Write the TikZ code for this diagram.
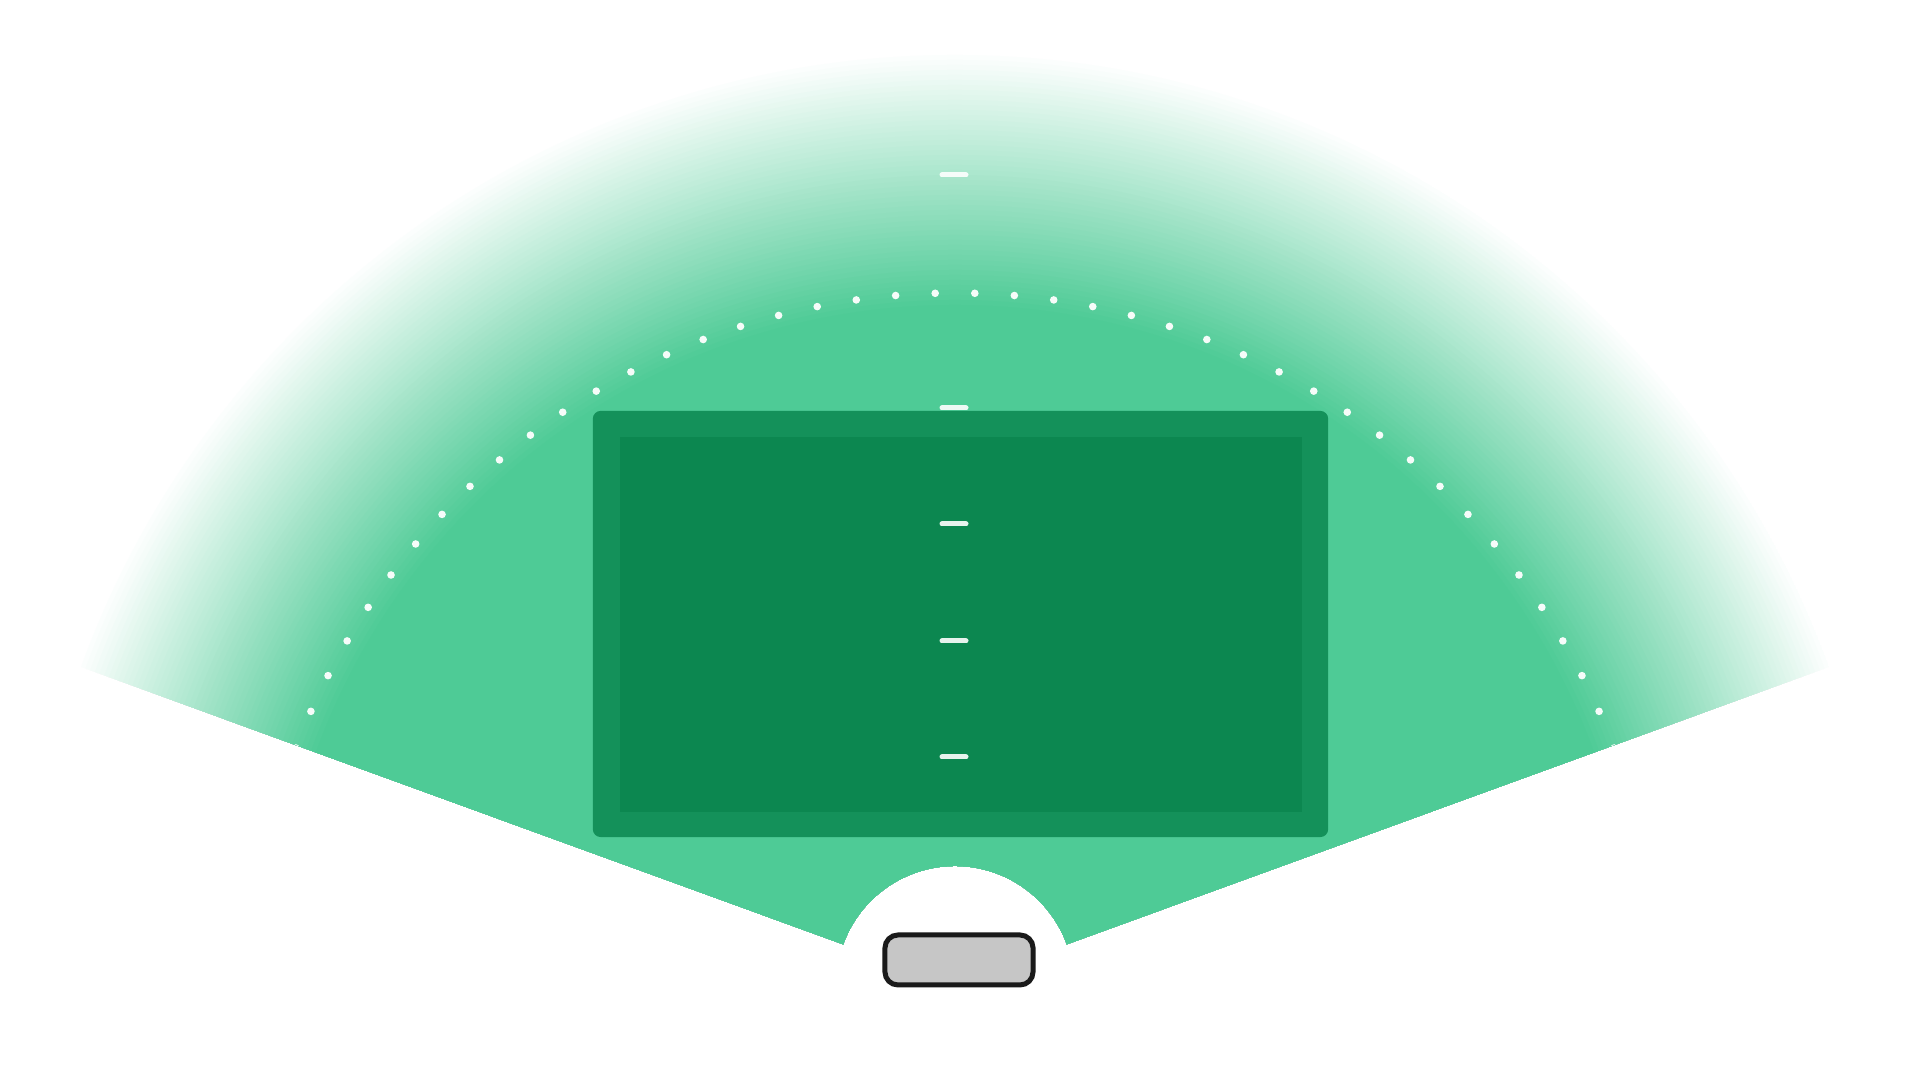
\documentclass[tikz,border=0pt]{standalone}
\usepackage{tikz}
\usetikzlibrary{positioning}

\definecolor{fangreen}{RGB}{78,203,150}
\definecolor{screenrim}{RGB}{20,145,90}
\definecolor{screenfill}{RGB}{12,135,80}
\definecolor{buttongray}{RGB}{198,198,198}
\definecolor{buttonrim}{RGB}{26,26,26}

\begin{document}
\begin{tikzpicture}[
  x=0.01cm, y=0.01cm,
  screen/.style={rectangle, rounded corners=0.08cm, fill=screenrim, minimum width=7.35cm, minimum height=4.26cm, inner sep=0pt},
  screencore/.style={rectangle, fill=screenfill, minimum width=6.82cm, minimum height=3.75cm, inner sep=0pt},
  button/.style={rectangle, rounded corners=0.13cm, draw=buttonrim, fill=buttongray, line width=0.05cm, minimum width=1.48cm, minimum height=0.5cm, inner sep=0pt},
  dotmark/.style={fill=white, opacity=0.95},
  tickmark/.style={draw=white, opacity=0.9, line width=0.05cm, line cap=round}
]

% Canvas
\fill[white] (0,0) rectangle (1920,1080);
\useasboundingbox (0,0) rectangle (1920,1080);

% Centres of the fan and of the dotted arc
\coordinate (apex) at (955,95);
\coordinate (dotc) at (955,82);

% Fan with its fading rim, dotted arc clipped to the fan
\begin{scope}
  \clip (apex) ++(20:119) -- ++(20:811) arc[start angle=20, end angle=160, radius=930]
        -- ++(-20:811) arc[start angle=160, end angle=20, radius=119] -- cycle;
  % rim: rings from white (outside) to full green at r=680
  \foreach \r [evaluate=\r as \p using {(935-\r)/2.55}] in {935,930,...,680} {
    \fill[fangreen!\p!white] (apex) circle[radius=\r];
  }
  \foreach \k in {0,...,21} {
    \fill[dotmark] (dotc) ++(88.39-3.22*\k:705) circle[radius=3.8];
    \fill[dotmark] (dotc) ++(91.61+3.22*\k:705) circle[radius=3.8];
  }
\end{scope}

% Screen
\node[screen] (screen) at (960.5,456) {};
\node[screencore] (core) at (961,455.5) {};

% Scale ticks
\foreach \y in {323,439,556,672,905} {
  \draw[tickmark] (942,\y) -- (966,\y);
}

% Button
\node[button] (btn) at (959,120) {};

\end{tikzpicture}
\end{document}
